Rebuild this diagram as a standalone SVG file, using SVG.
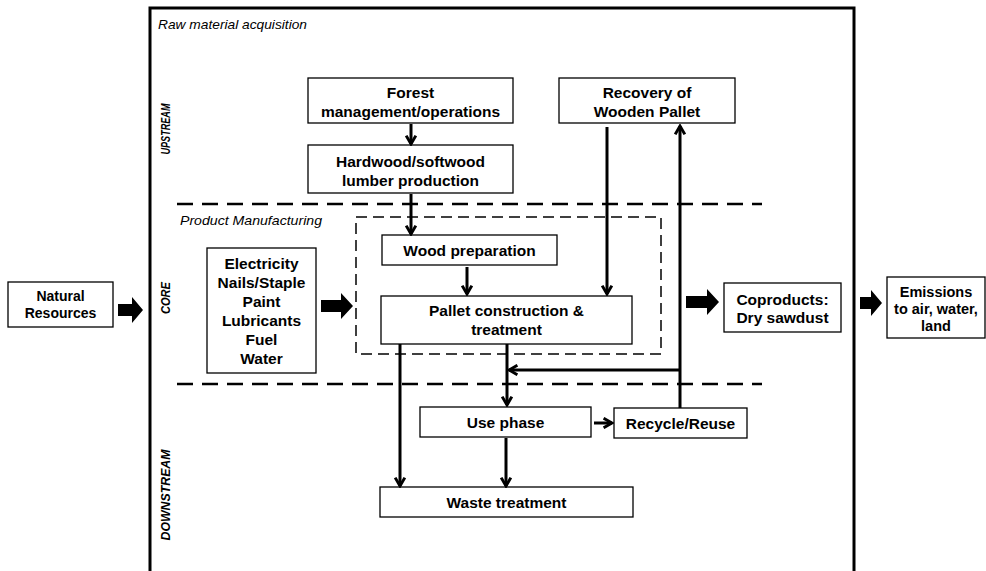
<svg xmlns="http://www.w3.org/2000/svg" width="986" height="571" viewBox="0 0 986 571">
<style>
.box{fill:#fff;stroke:#000;stroke-width:1.3}
.t{font-family:"Liberation Sans",Arial,sans-serif;font-weight:bold;font-size:15.5px;text-anchor:middle;fill:#000}
.it{font-family:"Liberation Sans",Arial,sans-serif;font-style:italic;font-size:13px;fill:#000}
.side{font-family:"Liberation Sans",Arial,sans-serif;font-style:italic;font-weight:bold;font-size:13px;text-anchor:middle;fill:#000}
.conn{stroke:#000;stroke-width:3;fill:none}
.dash{stroke:#000;stroke-width:2.5;fill:none;stroke-dasharray:16 9}
.dbox{stroke:#000;stroke-width:1.5;fill:none;stroke-dasharray:11 6}
.blk{fill:#000}
</style>
<defs>
<marker id="ah" viewBox="0 0 10 10" refX="8.5" refY="5" markerUnits="userSpaceOnUse" markerWidth="12" markerHeight="12" orient="auto">
<path d="M1.5,1 L8.5,5 L1.5,9" fill="none" stroke="#000" stroke-width="2.4"/>
</marker>
</defs>
<rect width="986" height="571" fill="#fff"/>
<g id="frame">
<rect x="150" y="8" width="704" height="600" fill="none" stroke="#000" stroke-width="3"/>
<text class="it" x="158" y="29" textLength="149" lengthAdjust="spacingAndGlyphs">Raw material acquisition</text>
<text class="it" x="180" y="225" textLength="142" lengthAdjust="spacingAndGlyphs">Product Manufacturing</text>
<text class="side" transform="translate(169.5,129) rotate(-90)" textLength="51" lengthAdjust="spacingAndGlyphs">UPSTREAM</text>
<text class="side" transform="translate(169.5,298) rotate(-90)" textLength="32" lengthAdjust="spacingAndGlyphs">CORE</text>
<text class="side" transform="translate(169.5,495) rotate(-90)" textLength="91" lengthAdjust="spacingAndGlyphs">DOWNSTREAM</text>
<line class="dash" x1="177" y1="204" x2="762" y2="204"/>
<line class="dash" x1="177" y1="384" x2="762" y2="384"/>
<rect class="dbox" x="356" y="217" width="305" height="137"/>
</g>
<g id="natural">
<rect class="box" x="8" y="282" width="105" height="45"/>
<text class="t" style="font-size:14px" x="60.5" y="301">Natural</text>
<text class="t" style="font-size:14px" x="60.5" y="318">Resources</text>
</g>
<g id="forest">
<rect class="box" x="308" y="78" width="205" height="45"/>
<text class="t" x="410.5" y="98">Forest</text>
<text class="t" x="410.5" y="117">management/operations</text>
</g>
<g id="hardwood">
<rect class="box" x="308" y="145" width="205" height="48"/>
<text class="t" x="410.5" y="167">Hardwood/softwood</text>
<text class="t" x="410.5" y="186">lumber production</text>
</g>
<g id="recovery">
<rect class="box" x="559" y="78" width="176" height="45"/>
<text class="t" x="647" y="98">Recovery of</text>
<text class="t" x="647" y="117">Wooden Pallet</text>
</g>
<g id="inputs">
<rect class="box" x="207" y="248" width="109" height="125"/>
<text class="t" x="261.5" y="269">Electricity</text>
<text class="t" x="261.5" y="288">Nails/Staple</text>
<text class="t" x="261.5" y="307">Paint</text>
<text class="t" x="261.5" y="326">Lubricants</text>
<text class="t" x="261.5" y="345">Fuel</text>
<text class="t" x="261.5" y="364">Water</text>
</g>
<g id="woodprep">
<rect class="box" x="382" y="235" width="175" height="30"/>
<text class="t" x="469.5" y="256">Wood preparation</text>
</g>
<g id="pallet">
<rect class="box" x="381" y="296" width="251" height="48"/>
<text class="t" x="506.5" y="316">Pallet construction &amp;</text>
<text class="t" x="506.5" y="335">treatment</text>
</g>
<g id="coproducts">
<rect class="box" x="724" y="283" width="117" height="49"/>
<text class="t" x="782.5" y="305">Coproducts:</text>
<text class="t" x="782.5" y="323">Dry sawdust</text>
</g>
<g id="emissions">
<rect class="box" x="887" y="277" width="98" height="61"/>
<text class="t" style="font-size:14.5px" x="936" y="297">Emissions</text>
<text class="t" style="font-size:14.5px" x="936" y="314">to air, water,</text>
<text class="t" style="font-size:14.5px" x="936" y="331">land</text>
</g>
<g id="usephase">
<rect class="box" x="420" y="407" width="171" height="30"/>
<text class="t" x="505.5" y="428">Use phase</text>
</g>
<g id="recycle">
<rect class="box" x="614" y="408" width="133" height="30"/>
<text class="t" x="680.5" y="429">Recycle/Reuse</text>
</g>
<g id="waste">
<rect class="box" x="380" y="487" width="253" height="30"/>
<text class="t" x="506.5" y="508">Waste treatment</text>
</g>
<g id="connectors">
<line class="conn" x1="411" y1="124" x2="411" y2="144" marker-end="url(#ah)"/>
<line class="conn" x1="411" y1="194" x2="411" y2="234" marker-end="url(#ah)"/>
<line class="conn" x1="467" y1="267" x2="467" y2="294" marker-end="url(#ah)"/>
<line class="conn" x1="607" y1="127" x2="607" y2="294" marker-end="url(#ah)"/>
<line class="conn" x1="680" y1="408" x2="680" y2="126" marker-end="url(#ah)"/>
<line class="conn" x1="680" y1="370" x2="509" y2="370" marker-end="url(#ah)"/>
<line class="conn" x1="400" y1="344" x2="400" y2="486" marker-end="url(#ah)"/>
<line class="conn" x1="507" y1="344" x2="507" y2="405" marker-end="url(#ah)"/>
<line class="conn" x1="506" y1="438" x2="506" y2="486" marker-end="url(#ah)"/>
<line class="conn" x1="594" y1="423" x2="612" y2="423" marker-end="url(#ah)"/>
<polygon class="blk" points="118,304 132,304 132,297 143,310 132,323 132,316 118,316"/>
<polygon class="blk" points="321,300 341,300 341,293 353,306 341,319 341,312 321,312"/>
<polygon class="blk" points="686,296 707,296 707,289 719,302 707,315 707,308 686,308"/>
<polygon class="blk" points="860,297 871,297 871,290 882,303 871,316 871,309 860,309"/>
</g>
</svg>
